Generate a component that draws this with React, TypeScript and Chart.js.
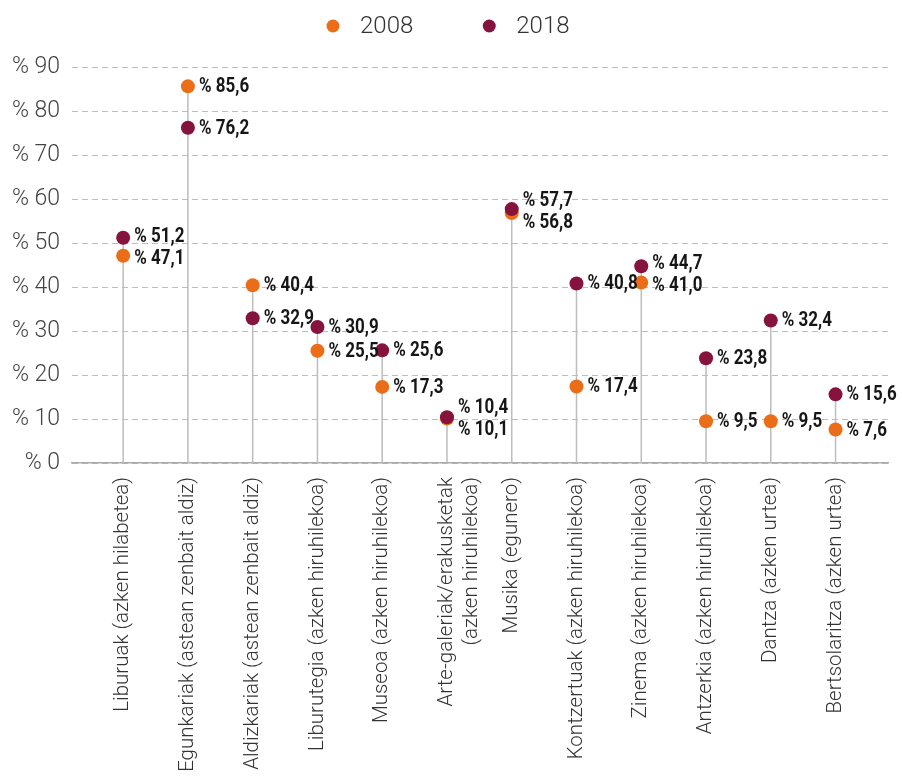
import React, { useEffect, useRef } from "react";
import { Chart, registerables } from "chart.js";

Chart.register(...registerables);

const categories: (string | string[])[] = [
  "Liburuak (azken hilabetea)",
  "Egunkariak (astean zenbait aldiz)",
  "Aldizkariak (astean zenbait aldiz)",
  "Liburutegia (azken hiruhilekoa)",
  "Museoa (azken hiruhilekoa)",
  ["Arte-galeriak/erakusketak", "(azken hiruhilekoa)"],
  "Musika (egunero)",
  "Kontzertuak (azken hiruhilekoa)",
  "Zinema (azken hiruhilekoa)",
  "Antzerkia (azken hiruhilekoa)",
  "Dantza (azken urtea)",
  "Bertsolaritza (azken urtea)",
];

const values2008 = [47.1, 85.6, 40.4, 25.5, 17.3, 10.1, 56.8, 17.4, 41.0, 9.5, 9.5, 7.6];
const values2018 = [51.2, 76.2, 32.9, 30.9, 25.6, 10.4, 57.7, 40.8, 44.7, 23.8, 32.4, 15.6];

const seriesLabels = ["2008", "2018"];
const seriesColors = ["#EC6D17", "#86123E"];

const yTicks = [0, 10, 20, 30, 40, 50, 60, 70, 80, 90];

const fmt = (v: number) => "% " + v.toFixed(1).replace(".", ",");

const stemPlugin = {
  id: "stems",
  beforeDatasetsDraw(chart: any) {
    const { ctx } = chart;
    const xs = chart.scales.x;
    const ys = chart.scales.y;
    ctx.save();
    ctx.strokeStyle = "#bdbdbd";
    ctx.lineWidth = 1.5;
    categories.forEach((_, i) => {
      const top = Math.max(values2008[i], values2018[i]);
      const x = xs.getPixelForValue(i);
      ctx.beginPath();
      ctx.moveTo(x, ys.getPixelForValue(0));
      ctx.lineTo(x, ys.getPixelForValue(top));
      ctx.stroke();
    });
    ctx.restore();
  },
};

const labelPlugin = {
  id: "valueLabels",
  afterDatasetsDraw(chart: any) {
    const { ctx } = chart;
    const m0 = chart.getDatasetMeta(0);
    const m1 = chart.getDatasetMeta(1);
    ctx.save();
    ctx.fillStyle = "#161616";
    ctx.font = "bold 20px Roboto";
    ctx.textBaseline = "middle";
    ctx.textAlign = "left";
    const minSep = 22;
    categories.forEach((_, i) => {
      const a = { y: m0.data[i].y, x: m0.data[i].x, v: values2008[i], ly: m0.data[i].y };
      const b = { y: m1.data[i].y, x: m1.data[i].x, v: values2018[i], ly: m1.data[i].y };
      const sorted = [a, b].sort((p, q) => p.y - q.y);
      const d = sorted[1].y - sorted[0].y;
      if (d < minSep) {
        const mid = (sorted[0].y + sorted[1].y) / 2;
        sorted[0].ly = mid - minSep / 2;
        sorted[1].ly = mid + minSep / 2;
      }
      [a, b].forEach((p) => {
        ctx.save();
        ctx.translate(p.x + 11, p.ly + 1);
        ctx.scale(0.85, 1);
        ctx.fillText(fmt(p.v), 0, 0);
        ctx.restore();
      });
    });
    ctx.restore();
  },
};

const legendPlugin = {
  id: "customLegend",
  afterDraw(chart: any) {
    const { ctx, width } = chart;
    ctx.save();
    ctx.font = "300 24px Roboto";
    ctx.textBaseline = "middle";
    ctx.textAlign = "left";
    const r = 6.5;
    const textOff = 27;
    const gap = 76;
    const widths = seriesLabels.map((l) => ctx.measureText(l).width);
    let total = 0;
    widths.forEach((w, i) => {
      total += r + textOff + w;
      if (i < widths.length - 1) total += gap - r;
    });
    let x = (width - total) / 2 + r - 3;
    const y = 26;
    seriesLabels.forEach((l, i) => {
      ctx.fillStyle = seriesColors[i];
      ctx.beginPath();
      ctx.arc(x, y, r, 0, Math.PI * 2);
      ctx.fill();
      ctx.fillStyle = "#333";
      ctx.fillText(l, x + textOff, y + 1);
      x += textOff + widths[i] + gap;
    });
    ctx.restore();
  },
};

export default function App() {
  const ref = useRef<HTMLCanvasElement | null>(null);
  useEffect(() => {
    document.body.style.margin = "0";
    if (!ref.current) return;
    const chart = new Chart(ref.current, {
      type: "scatter",
      data: {
        datasets: [
          {
            label: seriesLabels[0],
            data: values2008.map((v, i) => ({ x: i, y: v })),
            backgroundColor: seriesColors[0],
            pointBackgroundColor: seriesColors[0],
            pointBorderWidth: 0,
            pointRadius: 7,
            order: 1,
          },
          {
            label: seriesLabels[1],
            data: values2018.map((v, i) => ({ x: i, y: v })),
            backgroundColor: seriesColors[1],
            pointBackgroundColor: seriesColors[1],
            pointBorderWidth: 0,
            pointRadius: 7,
            order: 0,
          },
        ],
      },
      options: {
        animation: false,
        responsive: false,
        maintainAspectRatio: false,
        layout: { padding: { top: 67, left: 12, right: 14, bottom: 0 } },
        plugins: {
          legend: { display: false },
          tooltip: { enabled: false },
        },
        scales: {
          x: {
            type: "linear",
            min: -0.79,
            max: categories.length - 1 + 0.81,
            afterFit: (scale: any) => {
              scale.height = 313;
              scale.paddingLeft = 0;
              scale.paddingRight = 0;
            },
            afterBuildTicks: (scale: any) => {
              scale.ticks = categories.map((_, i) => ({ value: i }));
            },
            ticks: {
              autoSkip: false,
              maxRotation: 90,
              minRotation: 90,
              padding: 14,
              color: "#333",
              font: { family: "Roboto", size: 20.5, weight: "300" as any, lineHeight: 1.2 },
              callback: (v: any) => categories[v as number] as any,
            },
            grid: { display: false, drawTicks: false },
            border: { display: true, color: "#aaaaaa", width: 1.5 },
          },
          y: {
            min: 0,
            max: 90,
            afterFit: (scale: any) => {
              scale.width = 60;
            },
            afterBuildTicks: (scale: any) => {
              scale.ticks = yTicks.map((v) => ({ value: v }));
            },
            ticks: {
              padding: 12,
              color: "#444",
              font: { family: "Roboto", size: 23, weight: "300" as any },
              callback: (v: any) => "% " + v,
            },
            grid: { color: "#bdbdbd", lineWidth: 1, drawTicks: false },
            border: { display: false, dash: [6, 4] },
          },
        },
      },
      plugins: [stemPlugin, labelPlugin, legendPlugin],
    });
    return () => chart.destroy();
  }, []);
  return (
    <div style={{ width: 902, height: 776 }}>
      <canvas ref={ref} width={902} height={776} style={{ width: 902, height: 776, display: "block" }} />
    </div>
  );
}
